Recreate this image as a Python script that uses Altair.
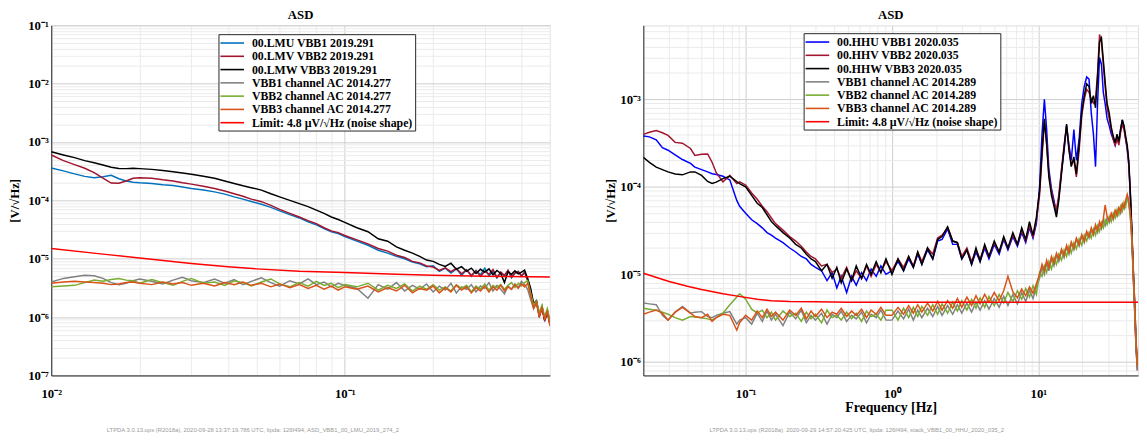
import altair as alt
import pandas as pd

# ---------------- values in µV/√Hz ----------------
FREQ_L = [0.010, 0.011, 0.012, 0.013, 0.014, 0.015, 0.016, 0.017, 0.018, 0.019, 0.020,
          0.022, 0.024, 0.026, 0.028, 0.030, 0.033, 0.036, 0.039, 0.042, 0.045, 0.048,
          0.052, 0.056, 0.060, 0.065, 0.070, 0.075, 0.080, 0.085, 0.090, 0.095, 0.100,
          0.11, 0.12, 0.13, 0.14, 0.15, 0.16, 0.17, 0.18, 0.19, 0.20,
          0.21, 0.22, 0.23, 0.24, 0.25, 0.26, 0.27, 0.28, 0.29, 0.30,
          0.31, 0.32, 0.33, 0.34, 0.35, 0.36, 0.37, 0.38, 0.39, 0.40,
          0.41, 0.42, 0.43, 0.44, 0.45, 0.46, 0.47, 0.48, 0.49, 0.50]

LMU = [360, 320, 285, 258, 245, 255, 270, 235, 215, 205, 200, 195, 185, 180, 170, 160,
       150, 140, 128, 115, 105, 96, 86, 76, 66, 57, 50, 43, 38, 33, 29, 27, 24,
       20, 17, 14, 12.5, 11, 10, 8.8, 8.2, 7.3, 7.6, 6.1, 6.9, 5.7, 6.7, 5.2, 6.5, 5.0, 6.3, 5.3, 6.9,
       5.1, 6.0, 4.7, 5.8, 5.0, 6.2, 4.7, 5.6, 6.1, 5.0, 5.9, 4.4, 2.9, 1.6, 1.9, 1.05, 1.45, 0.9, 1.25, 0.8]
LMV = [600, 480, 410, 355, 300, 240, 198, 196, 215, 240, 245, 240, 225, 215, 200, 190,
       175, 160, 145, 130, 118, 105, 95, 82, 70, 60, 52, 45, 40, 34, 30, 28, 25,
       21, 18, 15, 13.5, 11.5, 10.5, 9, 8.5, 7.5, 7.2, 6.3, 7.0, 6.0, 6.8, 5.5, 6.4, 5.2, 6.2, 5.0, 6.1,
       5.4, 6.5, 4.8, 5.9, 5.2, 6.3, 4.9, 5.7, 6.0, 5.1, 5.8, 4.2, 2.8, 1.5, 1.8, 1.0, 1.4, 0.85, 1.2, 0.75]
LMW = [680, 600, 540, 480, 440, 405, 370, 352, 350, 355, 350, 340, 325, 310, 295, 280,
       260, 240, 215, 195, 178, 165, 150, 130, 115, 100, 88, 78, 68, 60, 52, 47, 42,
       34, 29, 22, 20, 16, 14, 12.5, 11, 9.5, 9, 8, 7.4, 8.4, 6.6, 7.3, 6.1, 6.9, 5.6, 6.6, 5.9,
       6.7, 5.3, 6.3, 5.6, 3.9, 6.0, 5.4, 6.2, 5.5, 5.9, 6.4, 4.6, 3.1, 1.7, 1.9, 1.1, 1.5, 0.9, 1.3, 0.8]
AC1_L = [4.0, 4.6, 4.9, 5.2, 5.1, 4.6, 3.9, 3.6, 3.8, 4.2, 4.5, 4.1, 3.7, 4.3, 4.8, 4.2,
         3.9, 4.5, 3.8, 4.4, 3.6, 4.1, 4.7, 3.9, 3.4, 4.2, 3.7, 4.5, 3.6, 4.0, 3.3, 3.8, 3.5,
         3.1, 2.1, 3.6, 3.0, 3.9, 2.8, 3.5, 3.0, 3.7, 2.7, 3.4, 2.9, 3.8, 2.6, 3.3, 3.0, 3.6, 2.7, 3.4, 3.1,
         3.9, 2.8, 3.5, 3.0, 2.5, 3.4, 3.0, 3.7, 3.2, 4.1, 3.6, 3.0, 2.0, 1.4, 1.7, 1.1, 1.5, 0.95, 1.3, 0.8]
AC2_L = [3.3, 3.4, 3.5, 3.9, 4.3, 4.1, 4.4, 4.6, 4.3, 4.2, 3.8, 4.4, 3.9, 3.5, 4.1, 4.6,
         3.8, 4.0, 3.5, 4.2, 3.9, 3.4, 4.0, 4.5, 3.7, 3.3, 3.9, 3.4, 4.1, 3.5, 3.8, 3.2, 3.6,
         3.3, 3.8, 2.9, 3.5, 3.1, 3.7, 2.8, 3.4, 3.0, 3.6, 2.9, 3.3, 2.8, 3.6, 3.1, 3.5, 2.7, 3.4, 3.0, 3.7,
         2.9, 3.5, 3.2, 3.6, 3.0, 3.5, 3.9, 3.2, 3.8, 3.4, 3.9, 4.2, 2.6, 1.6, 1.9, 1.2, 1.6, 1.0, 1.4, 0.9]
AC3_L = [3.8, 4.0, 4.1, 4.0, 3.9, 3.8, 3.6, 3.7, 3.9, 4.0, 3.8, 3.6, 4.0, 3.7, 3.9, 3.5,
         3.8, 3.4, 3.9, 3.6, 4.0, 3.5, 3.8, 3.3, 3.7, 3.2, 3.6, 3.1, 3.5, 3.0, 3.4, 2.9, 3.3,
         3.0, 3.4, 2.7, 3.2, 2.8, 3.5, 2.6, 3.1, 2.9, 3.4, 2.6, 3.2, 2.7, 3.5, 2.9, 3.3, 2.6, 3.2, 2.8, 3.4,
         2.7, 3.3, 2.9, 3.5, 2.8, 3.3, 3.0, 3.6, 3.1, 3.7, 3.3, 3.8, 2.3, 1.4, 1.8, 1.0, 1.5, 0.9, 1.3, 0.7]
LIMIT_L_F = [0.01, 0.015, 0.02, 0.03, 0.04, 0.05, 0.07, 0.10, 0.15, 0.20, 0.30, 0.50]
LIMIT_L = [15.0, 12.0, 10.3, 8.3, 7.3, 6.7, 6.1, 5.8, 5.4, 5.2, 5.0, 4.85]

FREQ_R = [0.020, 0.022, 0.0245, 0.027, 0.0295, 0.033, 0.037, 0.042, 0.045, 0.050, 0.055, 0.059,
          0.063, 0.070, 0.078, 0.087, 0.091,
          0.10, 0.11, 0.12, 0.13, 0.14, 0.15, 0.16, 0.18, 0.20, 0.22, 0.24, 0.26, 0.28, 0.30,
          0.33, 0.36, 0.39, 0.42, 0.45, 0.49, 0.53, 0.57, 0.62, 0.67, 0.72, 0.78, 0.84, 0.91,
          1.0, 1.1, 1.2, 1.3, 1.4, 1.5, 1.6, 1.75, 1.9, 2.05, 2.2, 2.4, 2.6, 2.8, 3.0, 3.25,
          3.5, 3.75, 4.0, 4.3, 4.6, 5.0, 5.4, 5.8, 6.2, 6.7, 7.2, 7.7, 8.2, 8.7, 9.2, 9.7,
          10.2, 10.6, 11.0, 11.4, 11.8, 12.3, 12.8, 13.3, 13.8, 14.4, 15.0, 15.6, 16.2, 16.8,
          17.5, 18.2, 19.0, 19.8, 20.6, 21.4, 22.2, 23.0, 23.8, 24.6, 25.4, 26.2, 27.0, 27.8,
          28.6, 29.5, 30.5, 31.5, 32.5, 33.5, 34.5, 35.5, 36.5, 37.5, 38.5, 39.5, 40.5, 41.5,
          42.5, 43.5, 44.5, 45.5, 46.5, 47.5]

HHU = [381, 372, 345, 280, 262, 232, 205, 185, 168, 157, 148, 141, 138, 132, 120, 70, 60,
       50, 42, 38, 34, 30, 28, 26, 23, 20, 18, 16, 15, 13, 12, 11, 8.5, 10.5, 7, 9.5, 6.2, 9.5, 7.5, 10.5, 8.5, 11.5, 9.5, 12.5, 10,
       11, 14, 11, 15, 12, 17, 13, 19, 15, 24, 25, 33, 22, 22, 15, 19, 13, 18, 14, 20, 15, 22,
       17, 25, 19, 27, 21, 30, 23, 34, 26, 38,
       100, 400, 1000, 450, 160, 95, 70, 50, 75, 150, 260, 500, 300, 200, 450, 200, 350, 900,
       1400, 1800, 1700, 700, 400, 170, 900, 3000, 2500, 1200, 900, 600, 500, 400, 350, 300,
       380, 320, 450, 580, 480, 350, 270, 180, 85, 32, 11, 4.5, 1.6, 0.9]
HHV = [397, 420, 440, 415, 387, 322, 315, 274, 228, 236, 237, 191, 145, 114, 135, 109, 114,
       105, 85, 72, 60, 52, 44, 38, 32, 27, 24, 21, 18, 16, 15, 12.5, 13, 10.5, 11.5, 9, 12, 8.5, 11, 9, 12.5, 9.5, 13, 10.5, 14,
       11, 15, 12, 16, 12.5, 18, 14, 20, 17, 26, 28, 34, 24, 23, 16, 20, 14, 19, 15, 21, 16, 23,
       18, 26, 20, 28, 22, 32, 24, 36, 27, 41,
       80, 220, 550, 320, 140, 90, 65, 55, 80, 160, 300, 480, 280, 180, 200, 130, 260, 650,
       1000, 1300, 1200, 1000, 900, 1000, 2000, 5500, 4500, 2500, 1400, 800, 600, 450, 350, 300,
       350, 300, 420, 520, 450, 350, 280, 180, 80, 30, 10, 4, 1.5, 0.8]
HHW = [218, 190, 168, 157, 148, 140, 137, 148, 148, 135, 115, 109, 113, 124, 132, 115, 109,
       100, 80, 65, 58, 48, 40, 36, 30, 26, 22, 20, 17, 15, 14, 11, 13, 9, 12, 8, 11.5, 8.5, 12.5, 9, 13, 10, 14, 10.5, 15,
       10, 15, 11, 16, 12, 18, 13, 20, 15, 25, 27, 35, 24, 23, 15, 19, 13, 20, 14, 22, 16, 24,
       18, 27, 20, 30, 22, 34, 25, 40, 28, 45,
       90, 250, 600, 300, 130, 80, 60, 45, 70, 140, 280, 520, 260, 170, 220, 140, 300, 700,
       1100, 1500, 1400, 900, 1100, 800, 1800, 4500, 5000, 2800, 1600, 900, 700, 480, 380, 320,
       400, 330, 460, 580, 500, 380, 300, 200, 90, 35, 12, 5, 1.8, 0.9]
AC1_R = [4.7, 4.6, 4.5, 3.4, 3.0, 3.7, 4.3, 3.6, 3.7, 3.75, 3.3, 3.2, 3.4, 3.6, 3.75, 2.7, 3.0,
         3.2, 2.7, 3.6, 2.9, 3.8, 3.0, 3.5, 2.6, 3.7, 3.1, 3.9, 2.8, 3.4, 3.0, 3.6, 2.7, 3.5, 3.2,
         3.8, 2.9, 3.4, 3.1, 3.7, 2.8, 3.5, 3.2, 3.9, 3.0,
         3.0, 3.8, 3.1, 4.0, 3.0, 3.9, 3.2, 4.1, 3.3, 4.3, 3.4, 4.4, 3.5, 4.5, 3.6, 4.7, 3.7, 4.8,
         3.9, 5.0, 4.0, 5.3, 4.2, 5.6, 4.4, 5.9, 4.6, 6.2, 4.9, 6.6, 5.3, 7.2,
         9.0, 12.0, 10.0, 13.5, 11.0, 15.0, 12.5, 16.5, 14.0, 18.5, 15.5, 20.5, 17.0, 22.5, 19.0, 25.0,
         21.0, 27.5, 23.0, 30, 26, 32, 28, 35, 30, 38, 33, 41, 36, 44, 39, 48, 42, 52, 46, 56, 50,
         62, 56, 68, 74, 64, 46, 25, 10, 4, 1.5, 0.8]
AC2_R = [4.1, 4.0, 3.9, 3.7, 3.5, 3.2, 3.0, 3.3, 3.25, 3.2, 3.1, 3.0, 3.2, 3.6, 4.5, 5.5, 6.0,
         5.2, 4.0, 3.6, 3.9, 3.2, 3.7, 3.0, 3.8, 3.3, 3.6, 2.9, 3.7, 3.1, 3.5, 2.8, 3.9, 3.2, 3.4,
         3.0, 3.7, 3.1, 3.6, 2.9, 3.8, 3.3, 3.5, 3.0, 3.9,
         3.9, 3.0, 4.1, 3.2, 4.2, 3.3, 4.3, 3.4, 4.5, 3.5, 4.6, 3.6, 4.8, 3.8, 5.0, 3.9, 5.2, 4.1,
         5.4, 4.2, 5.6, 4.4, 5.9, 4.7, 6.2, 4.9, 6.5, 5.2, 6.9, 5.5, 7.4, 5.9,
         10.5, 9.5, 12.5, 10.5, 14.0, 11.5, 15.5, 13.0, 17.0, 14.5, 19.0, 16.0, 21.0, 17.5, 23.0,
         19.5, 25.5, 21.5, 28, 24, 30, 26, 33, 28, 36, 31, 39, 34, 42, 37, 46, 40, 50, 44, 55, 48,
         60, 53, 66, 59, 78, 66, 48, 27, 11, 4.5, 1.7, 0.9]
AC3_R = [3.5, 3.7, 3.9, 3.6, 3.0, 3.7, 4.2, 3.6, 3.3, 3.2, 3.5, 2.9, 3.2, 3.5, 3.4, 2.3, 2.8,
         3.4, 3.0, 3.8, 3.2, 4.0, 3.3, 3.7, 3.0, 3.9, 3.4, 4.1, 3.1, 3.8, 3.3, 4.0, 3.2, 3.7, 3.5,
         4.1, 3.3, 3.8, 3.4, 4.0, 3.2, 3.9, 3.5, 4.2, 3.4,
         3.4, 4.2, 3.5, 4.4, 3.6, 4.5, 3.7, 4.7, 3.8, 4.9, 3.9, 5.0, 4.1, 5.3, 4.2, 5.5, 4.4, 5.7,
         4.6, 5.9, 4.8, 6.2, 5.0, 6.5, 9.5, 6.3, 5.4, 6.8, 5.7, 7.2, 6.1, 7.8,
         10.0, 13.0, 11.0, 14.5, 12.0, 16.0, 13.5, 17.5, 15.0, 19.5, 16.5, 21.5, 18.0, 23.5, 20, 26,
         22, 28.5, 24, 31, 27, 34, 29, 37, 32, 40, 35, 43, 62, 46, 41, 50, 44, 54, 48, 58, 52,
         64, 58, 70, 82, 70, 50, 28, 12, 5, 1.8, 0.9]
LIMIT_R_F = [0.02, 0.03, 0.04, 0.05, 0.07, 0.09, 0.12, 0.15, 0.20, 0.30, 0.50, 1.0, 48.0]
LIMIT_R = [10.3, 8.3, 7.3, 6.7, 6.0, 5.6, 5.2, 5.0, 4.9, 4.85, 4.8, 4.8, 4.8]

NAMES_L = ["00.LMU VBB1 2019.291", "00.LMV VBB2 2019.291", "00.LMW VBB3 2019.291",
           "VBB1 channel AC 2014.277", "VBB2 channel AC 2014.277", "VBB3 channel AC 2014.277",
           "Limit: 4.8 µV/√Hz (noise shape)"]
NAMES_R = ["00.HHU VBB1 2020.035", "00.HHV VBB2 2020.035", "00.HHW VBB3 2020.035",
           "VBB1 channel AC 2014.289", "VBB2 channel AC 2014.289", "VBB3 channel AC 2014.289",
           "Limit: 4.8 µV/√Hz (noise shape)"]
COLORS_L = ["#0072BD", "#A2142F", "#000000", "#808080", "#77AC30", "#D95319", "#FF0000"]
COLORS_R = ["#0000FF", "#A2142F", "#000000", "#808080", "#77AC30", "#D95319", "#FF0000"]

FOOTER_L = "LTPDA 3.0.13.ops (R2018a), 2020-09-28 13:37:19.786 UTC, ltpda: 126f494, ASD_VBB1_00_LMU_2019_274_2"
FOOTER_R = "LTPDA 3.0.13.ops (R2018a), 2020-09-29 14:57:20.425 UTC, ltpda: 126f494, stack_VBB1_00_HHU_2020_035_2"

SERIF = "Liberation Serif"
SANS = "Liberation Sans"

MAJOR = "abs(log(datum.value)/LN10 - round(log(datum.value)/LN10)) < 1e-6"
LABEL_EXPR = (MAJOR + " ? '10' + (round(log(datum.value)/LN10) < 0 ? '⁻' : '') + "
              "['⁰','¹','²','³','⁴','⁵','⁶','⁷','⁸','⁹'][abs(round(log(datum.value)/LN10))] : ''")
GRID_COLOR = {"condition": {"test": MAJOR, "value": "#cdcdcd"}, "value": "#ebebeb"}


def tick_values(lo, hi):
    vals = []
    for e in range(-8, 3):
        for m in range(1, 10):
            v = float(f"{m}e{e}")
            if lo * 0.9999 <= v <= hi * 1.0001:
                vals.append(v)
    return vals


def axis(values, title, label_pad, title_pad, title_size):
    return alt.Axis(values=values, labelExpr=LABEL_EXPR, grid=True, gridColor=GRID_COLOR,
                    gridWidth=1, ticks=False, domainColor="#262626", labelFont=SERIF,
                    labelFontSize=13, labelFontWeight="bold", labelColor="black",
                    labelPadding=label_pad, labelOverlap=False, labelFlush=False,
                    titleFont=SERIF, titleFontSize=title_size, titleFontWeight="bold",
                    titleColor="black", titlePadding=title_pad, title=title)


def panel(series, names, colors, xdom, ydom, xtitle, ytitle, ytitle_pad,
          legend_xy, footer, footer_x, width):
    xs = alt.Scale(type="log", domain=xdom, nice=False)
    ys = alt.Scale(type="log", domain=ydom, nice=False)
    xa = axis(tick_values(*xdom), xtitle, 12, 1, 14)
    ya = axis(tick_values(*ydom), ytitle, 3, ytitle_pad, 13)
    cs = alt.Scale(domain=names, range=colors)
    leg = alt.Legend(title=None, orient="none", legendX=legend_xy[0], legendY=legend_xy[1],
                     direction="vertical", fillColor="white", strokeColor="#262626",
                     padding=2, symbolType="M-2,0H2", symbolSize=144, symbolStrokeWidth=1.6,
                     symbolOffset=5, labelFont=SERIF, labelFontSize=12, labelFontWeight="bold",
                     labelColor="black", labelLimit=400, rowPadding=0.5, labelOffset=13)
    layers = []
    for name, (f, v) in zip(names, series):
        assert len(f) == len(v), (name, len(f), len(v))
        df = pd.DataFrame({"f": f, "v": [u * 1e-6 for u in v], "s": name})
        layers.append(
            alt.Chart(df).mark_line(strokeWidth=1.5, clip=True).encode(
                x=alt.X("f:Q", scale=xs, axis=xa),
                y=alt.Y("v:Q", scale=ys, axis=ya),
                color=alt.Color("s:N", scale=cs, legend=leg, sort=names),
            )
        )
    foot = alt.Chart(pd.DataFrame({"t": [footer]})).mark_text(
        font=SANS, fontSize=6, color="#9a9a9a", align="center", baseline="middle"
    ).encode(text="t:N", x=alt.value(footer_x), y=alt.value(412))
    layers.append(foot)
    return alt.layer(*layers).properties(
        width=width, height=356,
        title=alt.Title("ASD", font=SERIF, fontSize=13, fontWeight="bold", color="black",
                        offset=-3, anchor="middle", frame="group"),
    )


left = panel(
    [(FREQ_L, LMU), (FREQ_L, LMV), (FREQ_L, LMW), (FREQ_L, AC1_L), (FREQ_L, AC2_L),
     (FREQ_L, AC3_L), (LIMIT_L_F, LIMIT_L)],
    NAMES_L, COLORS_L, [0.01, 0.5], [1e-7, 1e-1], None, "[V/√Hz]", 6,
    (170, 9), FOOTER_L, 205, 507,
)
right = panel(
    [(FREQ_R, HHU), (FREQ_R, HHV), (FREQ_R, HHW), (FREQ_R, AC1_R), (FREQ_R, AC2_R),
     (FREQ_R, AC3_R), (LIMIT_R_F, LIMIT_R)],
    NAMES_R, COLORS_R, [0.02, 48], [7e-7, 7e-3], "Frequency  [Hz]", "[V/√Hz]", 2,
    (163, 8), FOOTER_R, 217, 503,
)

chart = alt.hconcat(left, right, spacing=95, bounds="flush",
                    padding={"left": 0, "top": -3, "right": 0, "bottom": 0}).resolve_scale(
    color="independent").resolve_legend(color="independent").configure_view(
    stroke="#262626", strokeWidth=1.2
).configure(background="white")

chart.save("out.html", embed_options={"renderer": "svg", "actions": False})
